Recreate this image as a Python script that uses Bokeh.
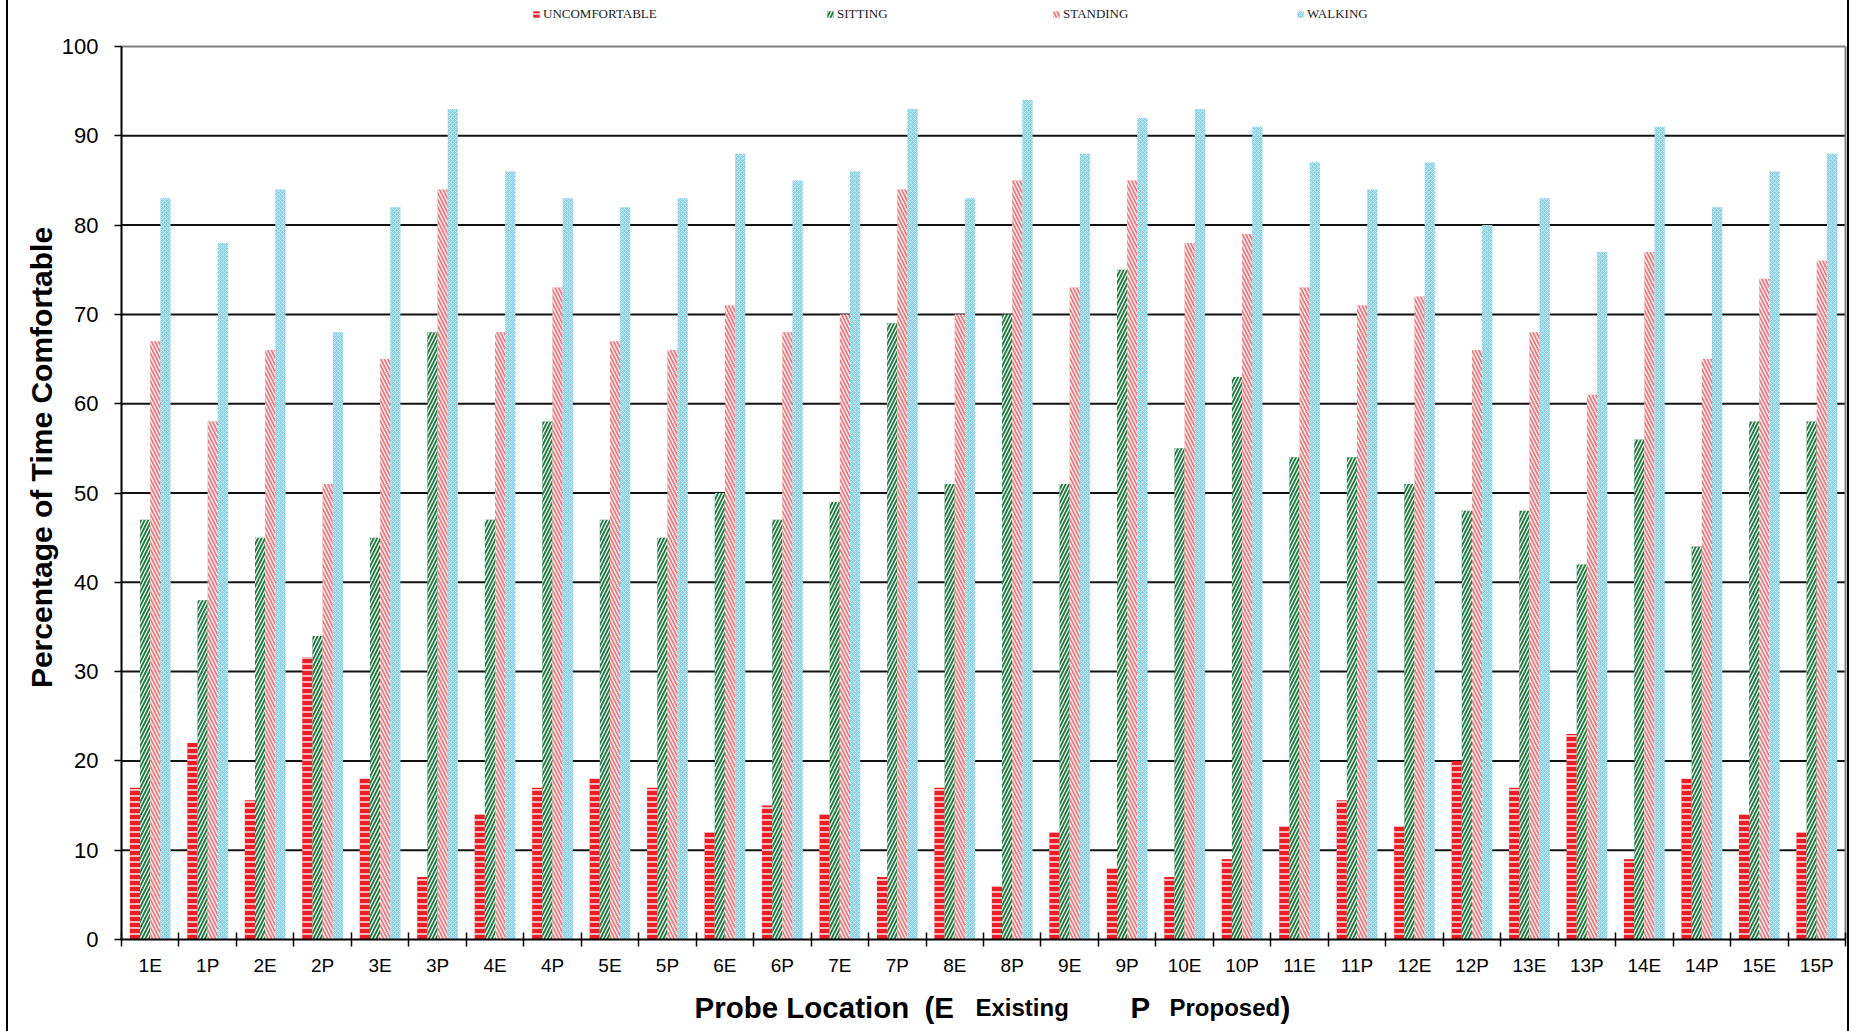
import numpy as np
from bokeh.plotting import figure
from bokeh.models import (Range1d, FixedTicker, Label, Legend, LegendItem, Div, LinearAxis)
from bokeh.layouts import row
from bokeh.embed import file_html
from bokeh.resources import INLINE

# ---------------- data ----------------
locations = ["1E", "1P", "2E", "2P", "3E", "3P", "4E", "4P", "5E", "5P",
             "6E", "6P", "7E", "7P", "8E", "8P", "9E", "9P", "10E", "10P",
             "11E", "11P", "12E", "12P", "13E", "13P", "14E", "14P", "15E", "15P"]
uncomfortable = [17, 22, 15.6, 31.6, 18, 7, 14, 17, 18, 17,
                 12, 15, 14, 7, 17, 6, 12, 8, 7, 9,
                 12.7, 15.6, 12.7, 20, 17, 23, 9, 18, 14, 12]
sitting = [47, 38, 45, 34, 45, 68, 47, 58, 47, 45,
           50, 47, 49, 69, 51, 70, 51, 75, 55, 63,
           54, 54, 51, 48, 48, 42, 56, 44, 58, 58]
standing = [67, 58, 66, 51, 65, 84, 68, 73, 67, 66,
            71, 68, 70, 84, 70, 85, 73, 85, 78, 79,
            73, 71, 72, 66, 68, 61, 77, 65, 74, 76]
walking = [83, 78, 84, 68, 82, 93, 86, 83, 82, 83,
           88, 85, 86, 93, 83, 94, 88, 92, 93, 91,
           87, 84, 87, 80, 83, 77, 91, 82, 86, 88]
series_names = ["UNCOMFORTABLE", "SITTING", "STANDING", "WALKING"]
y_ticks = list(range(0, 101, 10))
x_title_parts = ["Probe Location", "(E", "Existing", "P", "Proposed", ")"]
y_title = "Percentage of Time Comfortable"

# ---------------- layout geometry (canvas pixels) ----------------
W, H = 1839, 1031
plot_left, plot_right = 113, 1837      # canvas x of data x=0 and x=n
plot_top, plot_bottom = 46, 939        # canvas y of data y=100 and y=0
n = len(locations)
ppx = (plot_right - plot_left) / n
ppy = (plot_bottom - plot_top) / 100.0
x_start = -plot_left / ppx
x_end = n + (W - plot_right) / ppx
y_start = -(H - plot_bottom) / ppy
y_end = 100 + plot_top / ppy

p = figure(width=W, height=H, output_backend="svg", toolbar_location=None, tools="",
           x_range=Range1d(x_start, x_end), y_range=Range1d(y_start, y_end),
           x_axis_location=None, y_axis_location=None,
           min_border=0, min_border_left=0, min_border_right=0,
           min_border_top=0, min_border_bottom=0)
p.outline_line_color = None
p.background_fill_color = "white"
p.border_fill_color = "white"
p.xgrid.visible = False
p.ygrid.visible = False

# horizontal gridlines inside the plot area
grid_y = y_ticks[1:-1]
p.segment(x0=[0] * len(grid_y), x1=[n] * len(grid_y), y0=grid_y, y1=grid_y,
          line_color="#111111", line_width=2, level="underlay")

# bars
centers = np.arange(n) + 0.5
bw = 0.177
offsets = [-1.5, -0.5, 0.5, 1.5]
series = [uncomfortable, sitting, standing, walking]
styles = [
    dict(fill_color="#ee1c25", hatch_pattern="horizontal_line", hatch_color="white",
         hatch_scale=6, hatch_weight=1.6, hatch_alpha=0.85),
    dict(fill_color="#1a7a3c", hatch_pattern="right_diagonal_line", hatch_color="white",
         hatch_scale=7, hatch_weight=1.3, hatch_alpha=0.95),
    dict(fill_color="#f27478", hatch_pattern="left_diagonal_line", hatch_color="white",
         hatch_scale=7, hatch_weight=1.4, hatch_alpha=0.95),
    dict(fill_color="#8ad1e3", hatch_pattern="diagonal_cross", hatch_color="white",
         hatch_scale=4, hatch_weight=0.8, hatch_alpha=0.6),
]
renderers = []
for vals, off, st in zip(series, offsets, styles):
    r = p.vbar(x=centers + off * bw, top=vals, bottom=0, width=bw, line_color=None, **st)
    renderers.append(r)

# plot-area border: top and right (gray)
p.segment(x0=[0, n], x1=[n, n], y0=[100, 0], y1=[100, 100],
          line_color="#808080", line_width=2)

# y axis
yaxis = LinearAxis(fixed_location=0, bounds=(0, 100), ticker=FixedTicker(ticks=y_ticks))
yaxis.axis_line_color = "black"
yaxis.axis_line_width = 2
yaxis.major_tick_in = 0
yaxis.major_tick_out = 7
yaxis.major_tick_line_color = "black"
yaxis.major_tick_line_width = 1.5
yaxis.minor_tick_line_color = None
yaxis.major_label_standoff = 16
yaxis.major_label_text_font = "Liberation Sans"
yaxis.major_label_text_font_size = "22px"
yaxis.major_label_text_color = "black"
p.add_layout(yaxis, "left")

# x axis: labels at centres, ticks at category boundaries
xaxis = LinearAxis(fixed_location=0, bounds=(0, n),
                   ticker=FixedTicker(ticks=list(centers), minor_ticks=list(range(n + 1))))
xaxis.major_label_overrides = {float(c): lab for c, lab in zip(centers, locations)}
xaxis.major_tick_line_color = None
xaxis.major_tick_in = 0
xaxis.major_tick_out = 7
xaxis.minor_tick_in = 7
xaxis.minor_tick_out = 7
xaxis.minor_tick_line_color = "black"
xaxis.minor_tick_line_width = 1.5
xaxis.axis_line_color = "black"
xaxis.axis_line_width = 2
xaxis.major_label_standoff = 8
xaxis.major_label_text_font = "Liberation Sans"
xaxis.major_label_text_font_size = "19px"
xaxis.major_label_text_color = "black"
p.add_layout(xaxis, "below")

# axis titles (screen units = canvas pixels, y from bottom)
p.add_layout(Label(x=33, y=H - 457, x_units="screen", y_units="screen",
                   text=y_title, angle=np.pi / 2,
                   text_align="center", text_baseline="middle",
                   text_font="Liberation Sans", text_font_style="bold",
                   text_font_size="30px", text_color="black"))
part_x = [686, 916, 967, 1122, 1161, 1272]
part_size = ["29.5px", "29.5px", "24px", "29.5px", "24px", "29.5px"]
for txt, xs, fs in zip(x_title_parts, part_x, part_size):
    p.add_layout(Label(x=xs, y=24, x_units="screen", y_units="screen", text=txt,
                       text_align="left", text_baseline="alphabetic",
                       text_font="Liberation Sans", text_font_style="bold",
                       text_font_size=fs, text_color="black"))

# legend: one small legend per series along the top
legend_x = [524, 818, 1044, 1288]
for name, r, lx in zip(series_names, renderers, legend_x):
    lg = Legend(items=[LegendItem(label=name, renderers=[r])], location=(lx, H - 21.5),
                orientation="horizontal", padding=0, margin=0, spacing=0,
                glyph_width=8, glyph_height=8, label_height=14, label_width=0,
                label_standoff=3, border_line_color=None, background_fill_alpha=0,
                label_text_font="Liberation Serif", label_text_font_size="13px",
                label_text_color="#222222")
    p.add_layout(lg, "center")

left_pad = Div(text="", width=6, height=H, margin=0)
left_line = Div(text="", width=2, height=H, margin=0, styles={"background-color": "black"})
right_line = Div(text="", width=2, height=H, margin=0, styles={"background-color": "black"})
layout = row(left_pad, left_line, p, right_line, spacing=0)

open("out.html", "w").write(file_html(layout, INLINE))
